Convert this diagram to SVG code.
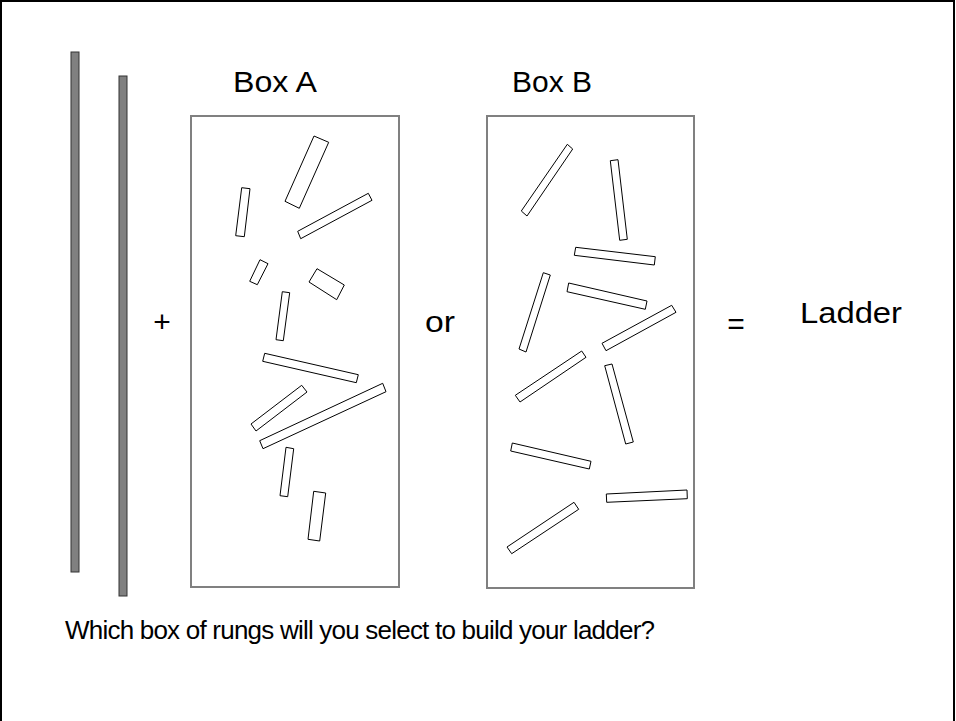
<svg xmlns="http://www.w3.org/2000/svg" width="956" height="721" viewBox="0 0 956 721">
<style>
.frame{fill:none;stroke:#000;stroke-width:2}
.rail{fill:#808080;stroke:#333;stroke-width:1}
.box{fill:#fff;stroke:#808080;stroke-width:2}
.rung{fill:#fff;stroke:#000;stroke-width:1}
.t{font-family:"Comic Sans MS","Liberation Sans",sans-serif;fill:#000}
</style>
<rect x="0" y="0" width="956" height="721" fill="#fff"/>
<rect class="frame" x="1" y="1" width="953" height="740"/>
<g id="rails">
<rect class="rail" x="71" y="52" width="8" height="520"/>
<rect class="rail" x="119" y="76" width="8" height="520"/>
</g>
<g id="boxA">
<rect class="box" x="191" y="116" width="208" height="471"/>
<polygon class="rung" points="314,136 328.7,142.3 299.3,208.3 285,201.3"/>
<polygon class="rung" points="241.7,187.7 250,188.7 244.3,236.7 235.7,235.7"/>
<polygon class="rung" points="368.3,193.3 372,200.3 300.7,238.7 297.7,231.3"/>
<polygon class="rung" points="260,259.7 268,263.7 257.3,284.7 249.7,281.3"/>
<polygon class="rung" points="317,268.7 344.3,285 336.7,299.7 309,282"/>
<polygon class="rung" points="282.3,291.7 289.7,292.7 283.3,340.7 276,339.7"/>
<polygon class="rung" points="264.7,353.3 358.3,374.7 356.3,382.7 262.7,361.3"/>
<polygon class="rung" points="301.7,385.3 307,392 256,431 251,424"/>
<polygon class="rung" points="382.7,383.3 386,391.7 263,448.7 259.7,440.7"/>
<polygon class="rung" points="286,447.3 293.7,448.7 287.7,496.7 280,495.7"/>
<polygon class="rung" points="313.7,491.3 325.7,493 319.7,541 308,539.3"/>
</g>
<g id="boxB">
<rect class="box" x="487" y="116" width="207" height="472"/>
<polygon class="rung" points="567.3,144.3 572.7,149 527,216 521.3,211"/>
<polygon class="rung" points="610.3,160.7 618,159.7 627.3,239.3 619.7,240.3"/>
<polygon class="rung" points="575.7,247.3 655.3,256.7 654.3,265 574.3,255.3"/>
<polygon class="rung" points="543.3,272.7 550.3,275 526,352 519,349"/>
<polygon class="rung" points="568.7,283 647,301 645.3,309.3 567,291.7"/>
<polygon class="rung" points="671.7,305.3 676,312.3 606,350.7 602,343.3"/>
<polygon class="rung" points="581.7,351 586,357.3 520,402 515.3,395.3"/>
<polygon class="rung" points="604.7,365.7 612,364 633.3,442 625.7,444"/>
<polygon class="rung" points="512.3,443 591,461.3 589.3,469 510.7,451"/>
<polygon class="rung" points="606.3,494 687,490 687.3,498.7 606.7,502.3"/>
<polygon class="rung" points="574,502.3 578.7,509.3 511.7,553.7 507,547"/>
</g>
<g id="labels">
<text class="t" x="233" y="92" font-size="29" textLength="84" lengthAdjust="spacingAndGlyphs">Box A</text>
<text class="t" x="512" y="92" font-size="29" textLength="80" lengthAdjust="spacingAndGlyphs">Box B</text>
<text class="t" x="162" y="332" font-size="30" text-anchor="middle">+</text>
<text class="t" x="425" y="332" font-size="29" textLength="30" lengthAdjust="spacingAndGlyphs">or</text>
<text class="t" x="736" y="334" font-size="30" text-anchor="middle">=</text>
<text class="t" x="800" y="323" font-size="29" textLength="102" lengthAdjust="spacingAndGlyphs">Ladder</text>
<text class="t" x="65" y="639" font-size="26" textLength="590" lengthAdjust="spacing">Which box of rungs will you select to build your ladder?</text>
</g>
</svg>
